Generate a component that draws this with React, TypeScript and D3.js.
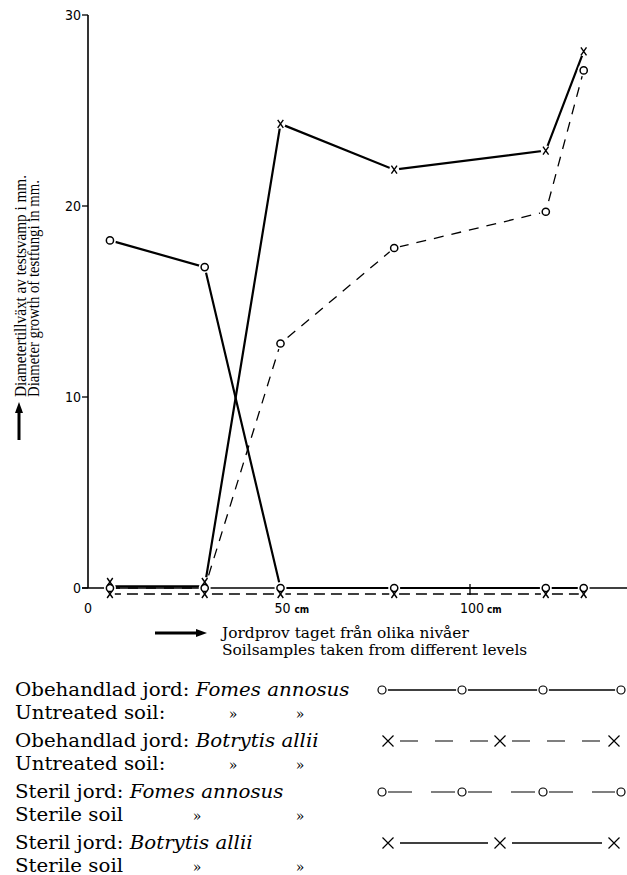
import React, { useEffect, useRef } from 'react';
import * as d3 from 'd3';

// sampling depths (cm) and growth (mm)
const depths = [5, 30, 50, 80, 120, 130];
const untreatedFomes = [18.2, 16.8, 0, 0, 0, 0];
const untreatedBotrytis = [0, 0, 0, 0, 0, 0];
const sterileFomes = [0, 0, 12.8, 17.8, 19.7, 27.1];
const sterileBotrytis = [0, 0, 24.3, 21.9, 22.9, 28.1];

const yTicks = [0, 10, 20, 30];
const xTicks = [0, 50, 100];
const xTickUnits = ['', 'cm', 'cm'];

const yTitle = ['Diametertillväxt av testsvamp i mm.', 'Diameter growth of testfungi in mm.'];
const xTitle = ['Jordprov taget från olika nivåer', 'Soilsamples taken from different levels'];

const legendRows = [
  { main: 'Obehandlad jord: ', species: 'Fomes annosus', sub: 'Untreated soil:', marks: [233, 300] },
  { main: 'Obehandlad jord: ', species: 'Botrytis allii', sub: 'Untreated soil:', marks: [233, 300] },
  { main: 'Steril jord: ', species: 'Fomes annosus', sub: 'Sterile soil', marks: [197, 300] },
  { main: 'Steril jord: ', species: 'Botrytis allii', sub: 'Sterile soil', marks: [197, 300] },
];

const W = 627;
const H = 875;
const serif = '"DejaVu Serif", "Liberation Serif", serif';
const narrow = '"Liberation Sans Narrow", "DejaVu Sans Condensed", "Liberation Sans", sans-serif';

export default function App() {
  const ref = useRef<SVGSVGElement>(null);

  useEffect(() => {
    const svg = d3.select(ref.current);
    svg.selectAll('*').remove();

    const x = d3.scaleLinear().domain([0, 100]).range([91, 470]);
    const y = d3.scaleLinear().domain([0, 30]).range([588, 15]);

    const axisX = 88;

    // y axis
    svg.append('line')
      .attr('x1', axisX).attr('x2', axisX)
      .attr('y1', y(30)).attr('y2', y(0))
      .attr('stroke', '#000').attr('stroke-width', 1.6);

    const yt = svg.append('g');
    yTicks.forEach(t => {
      yt.append('line')
        .attr('x1', axisX - 6).attr('x2', axisX)
        .attr('y1', y(t)).attr('y2', y(t))
        .attr('stroke', '#000').attr('stroke-width', 1.3);
      yt.append('text')
        .attr('x', axisX - 7).attr('y', y(t) + 5)
        .attr('text-anchor', 'end')
        .attr('font-family', narrow).attr('font-size', 14)
        .text(t);
    });

    // x axis (baseline)
    svg.append('line')
      .attr('x1', axisX - 6).attr('x2', W)
      .attr('y1', y(0)).attr('y2', y(0))
      .attr('stroke', '#000').attr('stroke-width', 1.6);

    svg.append('line')
      .attr('x1', x(100)).attr('x2', x(100))
      .attr('y1', y(0) - 4).attr('y2', y(0) + 7)
      .attr('stroke', '#000').attr('stroke-width', 1.3);

    xTicks.forEach((t, i) => {
      svg.append('text')
        .attr('x', t === 0 ? axisX : x(t) + 2).attr('y', 613)
        .attr('text-anchor', 'middle')
        .attr('font-family', narrow).attr('font-size', 14)
        .text(t);
      if (xTickUnits[i]) {
        svg.append('text')
          .attr('x', x(t) + (t >= 100 ? 17 : 14)).attr('y', 613)
          .attr('font-family', narrow).attr('font-size', 10).attr('font-weight', 'bold')
          .text(xTickUnits[i]);
      }
    });

    // series
    const series = [
      { values: untreatedFomes, marker: 'o', dash: null, width: 2.2, dy: 0, zeroDy: 0 },
      { values: untreatedBotrytis, marker: 'x', dash: '11 6', width: 1.3, dy: 6, zeroDy: 0 },
      { values: sterileFomes, marker: 'o', dash: '10 8', width: 1.3, dy: 0, zeroDy: 0 },
      { values: sterileBotrytis, marker: 'x', dash: null, width: 2.2, dy: 0, zeroDy: -1.6 },
    ];

    const lineGen = (s: any) => d3.line<number>()
      .x((_, i) => x(depths[i]))
      .y(d => y(d) + s.dy + (d === 0 ? s.zeroDy : 0));

    series.forEach(s => {
      svg.append('path')
        .datum(s.values)
        .attr('d', lineGen(s))
        .attr('fill', 'none')
        .attr('stroke', '#000')
        .attr('stroke-width', s.width)
        .attr('stroke-dasharray', s.dash);
    });

    const markerPos = (s: any, d: number, i: number) => {
      let yy = y(d) + s.dy;
      if (d === 0 && s.zeroDy) yy = y(d) - 6;
      return [x(depths[i]), yy];
    };

    // white halos leave gaps round the marks
    series.forEach(s => {
      s.values.forEach((d, i) => {
        const [px, py] = markerPos(s, d, i);
        svg.append('circle')
          .attr('cx', px).attr('cy', py)
          .attr('r', s.marker === 'o' ? 6 : 5)
          .attr('fill', '#fff');
      });
    });

    const drawX = (g: any, px: number, py: number, w: number, h: number, sw: number) => {
      g.append('path')
        .attr('d', `M${px - w},${py - h}L${px + w},${py + h}M${px + w},${py - h}L${px - w},${py + h}`)
        .attr('stroke', '#000').attr('stroke-width', sw).attr('fill', 'none');
    };

    series.forEach(s => {
      s.values.forEach((d, i) => {
        const [px, py] = markerPos(s, d, i);
        if (s.marker === 'o') {
          svg.append('circle')
            .attr('cx', px).attr('cy', py).attr('r', 3.6)
            .attr('fill', '#fff').attr('stroke', '#000').attr('stroke-width', 1.5);
        } else {
          drawX(svg, px, py, 2.8, 4, 1.4);
        }
      });
    });

    // y title with arrow
    yTitle.forEach((t, i) => {
      svg.append('text')
        .attr('transform', `translate(${26 + i * 13},397) rotate(-90)`)
        .attr('font-family', '"Liberation Serif", serif').attr('font-size', 16)
        .attr('textLength', i === 0 ? 222 : 217)
        .attr('lengthAdjust', 'spacingAndGlyphs')
        .text(t);
    });
    svg.append('line')
      .attr('x1', 19).attr('x2', 19).attr('y1', 440).attr('y2', 410)
      .attr('stroke', '#000').attr('stroke-width', 3);
    svg.append('path')
      .attr('d', 'M19,402L15,413L23,413Z').attr('fill', '#000');

    // x title with arrow
    svg.append('line')
      .attr('x1', 155).attr('x2', 197).attr('y1', 633).attr('y2', 633)
      .attr('stroke', '#000').attr('stroke-width', 3);
    svg.append('path')
      .attr('d', 'M207,633L196,629L196,637Z').attr('fill', '#000');
    xTitle.forEach((t, i) => {
      svg.append('text')
        .attr('transform', `translate(222,${638 + i * 17}) scale(1.1,1)`)
        .attr('font-family', serif).attr('font-size', 14)
        .text(t);
    });

    // legend
    const rowY = [690, 741, 792, 843];
    legendRows.forEach((r, i) => {
      const t = svg.append('text')
        .attr('transform', `translate(15,${rowY[i] + 6}) scale(1.1,1)`)
        .attr('font-family', serif).attr('font-size', 18);
      t.append('tspan').text(r.main);
      t.append('tspan').attr('font-style', 'italic').text(r.species);
      svg.append('text')
        .attr('transform', `translate(15,${rowY[i] + 29}) scale(1.1,1)`)
        .attr('font-family', serif).attr('font-size', 18)
        .text(r.sub);
      r.marks.forEach(m => {
        svg.append('text')
          .attr('x', m).attr('y', rowY[i] + 29)
          .attr('text-anchor', 'middle')
          .attr('font-family', serif).attr('font-size', 14)
          .text('»');
      });
    });

    const oPos = [382, 462, 543, 621];
    const xPos = [388, 500, 614];
    const lg = svg.append('g').attr('stroke', '#000').attr('fill', 'none');

    // row 1: o——o——o——o
    lg.append('line').attr('x1', oPos[0]).attr('x2', oPos[3])
      .attr('y1', rowY[0]).attr('y2', rowY[0]).attr('stroke-width', 1.3);
    // row 2: × — — — ×
    for (let k = 0; k < 2; k++) {
      lg.append('line').attr('x1', xPos[k] + 12).attr('x2', xPos[k + 1] - 12)
        .attr('y1', rowY[1]).attr('y2', rowY[1]).attr('stroke-width', 1.2)
        .attr('stroke-dasharray', '18 17');
    }
    // row 3: o— —o
    for (let k = 0; k < 3; k++) {
      lg.append('line').attr('x1', oPos[k] + 6).attr('x2', oPos[k + 1] - 6)
        .attr('y1', rowY[2]).attr('y2', rowY[2]).attr('stroke-width', 1.2)
        .attr('stroke-dasharray', '24 19');
    }
    // row 4: × ——— ×
    for (let k = 0; k < 2; k++) {
      lg.append('line').attr('x1', xPos[k] + 12).attr('x2', xPos[k + 1] - 12)
        .attr('y1', rowY[3]).attr('y2', rowY[3]).attr('stroke-width', 1.3);
    }
    [0, 2].forEach(r => {
      oPos.forEach(p => {
        svg.append('circle').attr('cx', p).attr('cy', rowY[r]).attr('r', 6).attr('fill', '#fff');
        svg.append('circle').attr('cx', p).attr('cy', rowY[r]).attr('r', 4)
          .attr('fill', '#fff').attr('stroke', '#000').attr('stroke-width', 1.2);
      });
    });
    [1, 3].forEach(r => {
      xPos.forEach(p => drawX(svg, p, rowY[r], 5.5, 5.5, 1.2));
    });
  }, []);

  return (
    <svg
      ref={ref}
      width={W}
      height={H}
      style={{ position: 'absolute', left: 0, top: 0, background: '#fff' }}
    />
  );
}
